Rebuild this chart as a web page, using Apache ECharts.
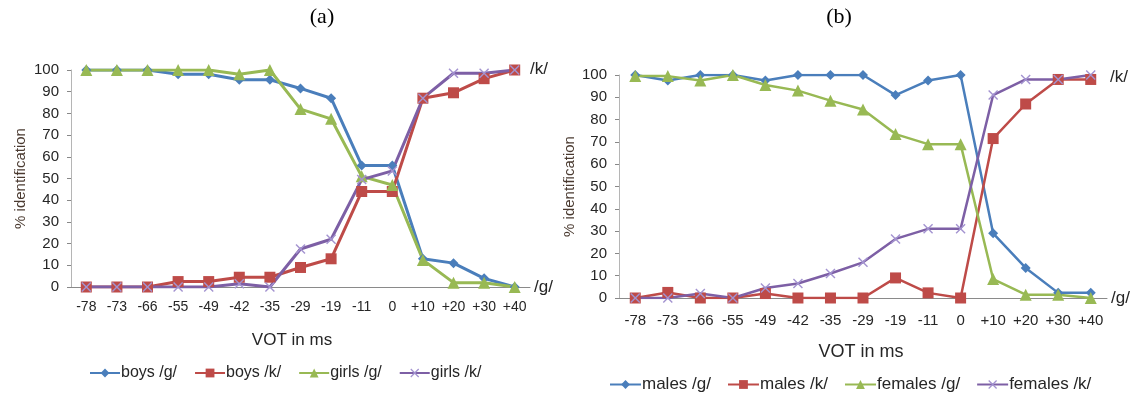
<!DOCTYPE html>
<html>
<head>
<meta charset="utf-8">
<script src="https://cdn.jsdelivr.net/npm/echarts@6/dist/echarts.min.js"></script>
<style>html,body{margin:0;padding:0;background:#fff;}#c{width:1136px;height:395px;}</style>
</head>
<body>
<div id="c"></div>
<script>
// ---- data ----
const catsA = ['-78','-73','-66','-55','-49','-42','-35','-29','-19','-11','0','+10','+20','+30','+40'];
const catsB = ['-78','-73','--66','-55','-49','-42','-35','-29','-19','-11','0','+10','+20','+30','+40'];
const yTicks = [0,10,20,30,40,50,60,70,80,90,100];

const boysG  = [100,100,100,98,98,95.5,95.5,91.5,87,56,56,13,11,4,0];
const boysK  = [0,0,0,2.5,2.5,4.5,4.5,9,13,44,44,87,89.5,96,100];
const girlsG = [100,100,100,100,100,98,100,82,77.5,51,47,12.5,2,2,0];
const girlsK = [0,0,0,0,0,1.5,0,17.5,22,49.5,53.5,87,98.5,98.5,100];

const malesG   = [100,97.5,100,100,97.5,100,100,100,91,97.5,100,29,13.5,2.3,2.3];
const malesK   = [0,2.5,0,0,2,0,0,0,9,2.3,0,71.5,87,98,98];
const femalesG = [99.5,99.5,97.5,100,95.5,93,88.5,84.5,73.5,69,69,8.5,1.5,1.5,0];
const femalesK = [0,0,2,0,4.5,6.5,11,16,26.5,31,31,91,98,98,100];

const namesA = ['boys /g/','boys /k/','girls /g/','girls /k/'];
const namesB = ['males /g/','males /k/','females /g/','females /k/'];

// ---- styles ----
const COL = ['#4A7EBB','#BE4B48','#98B954','#7D5FA5'];
const MARK = ['#4A7EBB','#BE4B48','#98B954','#A393D0'];
const crossPath = 'path://M0,1L1,0L5,4L9,0L10,1L6,5L10,9L9,10L5,6L1,10L0,9L4,5Z';
const SYM = ['diamond','rect','triangle', crossPath];
const FONT = '"Liberation Sans", Arial, sans-serif';
const TXT = '#262626';

function mkSeries(names, datas, axisIdx, lw, sizes){
  return names.map((n,i)=>({
    name:n, type:'line', xAxisIndex:axisIdx, yAxisIndex:axisIdx,
    data:datas[i], symbol:SYM[i], symbolSize:sizes[i], showAllSymbol:true,
    lineStyle:{color:COL[i], width:lw},
    itemStyle:{color:MARK[i], borderWidth:0},
    emphasis:{disabled:true}, animation:false
  }));
}

function xAx(grid, cats, fs, margin){
  return {
    type:'category', gridIndex:grid, data:cats, boundaryGap:true,
    axisLine:{lineStyle:{color:'#8a8a8a', width:1}},
    axisTick:{alignWithLabel:true, length:5, lineStyle:{color:'#555'}},
    axisLabel:{color:TXT, fontFamily:FONT, fontSize:fs, margin:margin, interval:0},
    name:'/g/', nameLocation:'end', nameGap:4,
    nameTextStyle:{color:TXT, fontFamily:FONT, fontSize:17},
    splitLine:{show:false}
  };
}
function yAx(grid, gap){
  return {
    type:'value', gridIndex:grid, min:yTicks[0], max:yTicks[yTicks.length-1], interval:yTicks[1]-yTicks[0],
    axisLine:{show:true, lineStyle:{color:'#b5b5b5'}},
    axisTick:{show:true, length:4, lineStyle:{color:'#888'}},
    axisLabel:{color:TXT, fontFamily:FONT, fontSize:15, margin:12},
    splitLine:{show:false},
    name:'% identification', nameLocation:'middle', nameGap:gap, nameRotate:90,
    nameTextStyle:{color:'#4a3a30', fontFamily:FONT, fontSize:15}
  };
}

const chart = echarts.init(document.getElementById('c'), null, {renderer:'canvas'});
chart.setOption({
  backgroundColor:'#fff',
  animation:false,
  grid:[
    {left:71, top:70, width:459, height:217},
    {left:619, top:75, width:488, height:223}
  ],
  xAxis:[xAx(0,catsA,14,13), xAx(1,catsB,15,15)],
  yAxis:[yAx(0,43), yAx(1,42)],
  legend:[
    {data:namesA, left:84, top:360, itemWidth:30, itemHeight:11, itemGap:17,
     textStyle:{color:TXT, fontFamily:FONT, fontSize:16, padding:[0,0,0,-4]}, selectedMode:false},
    {data:namesB, left:604, top:371, itemWidth:31, itemHeight:11, itemGap:16,
     textStyle:{color:TXT, fontFamily:FONT, fontSize:17, padding:[0,0,0,-4]}, selectedMode:false}
  ],
  graphic:[
    {type:'text', x:322, y:6, style:{text:'(a)', font:'22px "Liberation Serif", "Times New Roman", serif', fill:'#000', textAlign:'center'}},
    {type:'text', x:839, y:6, style:{text:'(b)', font:'22px "Liberation Serif", "Times New Roman", serif', fill:'#000', textAlign:'center'}},
    {type:'text', x:530, y:61, style:{text:'/k/', font:'17px "Liberation Sans", Arial, sans-serif', fill:TXT}},
    {type:'text', x:1110, y:69, style:{text:'/k/', font:'17px "Liberation Sans", Arial, sans-serif', fill:TXT}},
    {type:'text', x:292, y:332, style:{text:'VOT in ms', font:'17px "Liberation Sans", Arial, sans-serif', fill:TXT, textAlign:'center'}},
    {type:'text', x:861, y:343, style:{text:'VOT in ms', font:'18px "Liberation Sans", Arial, sans-serif', fill:TXT, textAlign:'center'}}
  ],
  series:[
    ...mkSeries(namesA,[boysG,boysK,girlsG,girlsK],0,3,[10,11,12,10]),
    ...mkSeries(namesB,[malesG,malesK,femalesG,femalesK],1,2.5,[10,11,12,10])
  ]
});
</script>
</body>
</html>
